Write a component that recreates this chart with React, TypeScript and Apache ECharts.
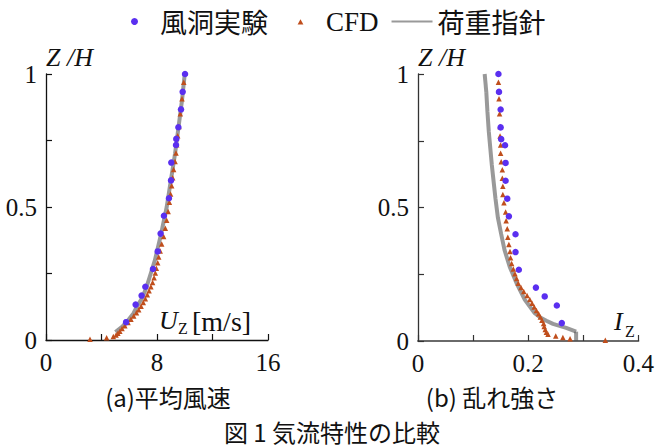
import React, { useEffect, useRef } from 'react';
import * as echarts from 'echarts';

// ---- data ----
const tunnelZ = [1, 0.933, 0.867, 0.8, 0.756, 0.733, 0.667, 0.6, 0.533, 0.467, 0.4, 0.333, 0.267, 0.2, 0.167, 0.133, 0.067];
const tunnelU = [10.02, 9.85, 9.73, 9.54, 9.39, 9.37, 9.03, 9.01, 8.86, 8.5, 8.26, 8.05, 7.71, 7.16, 6.89, 6.46, 5.77];
const tunnelI = [0.146, 0.147, 0.15, 0.15, 0.151, 0.158, 0.159, 0.159, 0.162, 0.165, 0.177, 0.177, 0.183, 0.214, 0.23, 0.252, 0.261];

const cfdZ = [0.969, 0.907, 0.851, 0.803, 0.768, 0.734, 0.703, 0.671, 0.641, 0.61, 0.58, 0.549, 0.518, 0.483, 0.45, 0.42, 0.389, 0.361, 0.335, 0.312, 0.29, 0.27, 0.252, 0.234, 0.216, 0.2, 0.185, 0.17, 0.155, 0.141, 0.127, 0.114, 0.102, 0.09, 0.078, 0.066, 0.054, 0.043, 0.033, 0.025, 0.019, 0.013, 0.008, 0.003];
const cfdU = [9.93, 9.8, 9.68, 9.58, 9.49, 9.42, 9.37, 9.3, 9.2, 9.13, 9.06, 8.98, 8.89, 8.8, 8.7, 8.6, 8.48, 8.34, 8.23, 8.12, 8.05, 7.95, 7.88, 7.79, 7.68, 7.56, 7.43, 7.3, 7.16, 7.01, 6.85, 6.68, 6.52, 6.32, 6.12, 5.91, 5.68, 5.48, 5.32, 5.18, 5.05, 4.85, 4.37, 3.17];
const cfdI = [0.146, 0.147, 0.148, 0.149, 0.149, 0.15, 0.15, 0.151, 0.153, 0.153, 0.154, 0.154, 0.156, 0.159, 0.16, 0.162, 0.163, 0.165, 0.167, 0.168, 0.17, 0.173, 0.176, 0.179, 0.182, 0.187, 0.192, 0.198, 0.203, 0.207, 0.211, 0.215, 0.219, 0.222, 0.225, 0.228, 0.229, 0.231, 0.233, 0.236, 0.25, 0.263, 0.276, 0.34];

const guideUZ = [0.03, 0.04, 0.05, 0.07, 0.1, 0.13, 0.16, 0.2, 0.25, 0.3, 0.4, 0.5, 0.6, 0.7, 0.8, 0.9, 1.0];
const guideU = [5.0, 5.25, 5.5, 5.85, 6.3, 6.6, 6.95, 7.25, 7.55, 7.85, 8.3, 8.7, 9.0, 9.3, 9.55, 9.8, 10.0];

const guideIZ = [1.0, 0.932, 0.86, 0.784, 0.659, 0.534, 0.462, 0.4, 0.341, 0.275, 0.216, 0.154, 0.104, 0.088, 0.076, 0.064, 0.049, 0.035, 0.0];
const guideI = [0.121, 0.124, 0.126, 0.1285, 0.134, 0.1406, 0.145, 0.151, 0.157, 0.167, 0.179, 0.194, 0.212, 0.222, 0.233, 0.245, 0.269, 0.287, 0.287];

const leftXTicks = [0, 8, 16];
const rightXTicks = [0, 0.2, 0.4];
const yTicks = [0, 0.5, 1];

const legendNames = ['風洞実験', 'CFD', '荷重指針'];

const C_TUNNEL = '#5a2ff0';
const C_CFD = '#c04e1c';
const SERIF = '"Liberation Serif", "Times New Roman", serif';
const SANS = '"Noto Sans CJK JP", "Noto Sans", sans-serif';
const INK = '#111';

// legend icon: small triangle inside a 41x7 box (the moveTo corners fix the box)
const TRI_ICON = 'path://M0,0 M41,7 M17.6,6.6 L20.5,1.2 L23.4,6.6 Z';

const pairs = (xs: number[], ys: number[]) => xs.map((x, i) => [x, ys[i]]);

const fmt = (ticks: number[]) => (v: number) => {
  const hit = ticks.find((t) => Math.abs(t - v) < 1e-9);
  return hit === undefined ? '' : String(hit);
};

const txt = (x: number, y: number, text: string, font: string, align = 'left', lineHeight?: number) => ({
  type: 'text',
  x,
  y,
  style: {
    text,
    font,
    fill: INK,
    align,
    verticalAlign: 'middle',
    textAlign: align,
    textVerticalAlign: 'middle',
    ...(lineHeight ? { lineHeight } : {}),
  },
});

export default function App() {
  const ref = useRef<HTMLDivElement>(null);
  useEffect(() => {
    if (!ref.current) return;
    const chart = echarts.init(ref.current, undefined, { renderer: 'svg' });

    const axisLine = (color: string, width: number) => ({ show: true, onZero: false, lineStyle: { color, width } });
    const tick = (color: string) => ({ show: true, inside: true, length: 6, lineStyle: { color, width: 1.2 } });
    const label = (ticks: number[], margin: number) => ({
      formatter: fmt(ticks),
      fontFamily: SERIF,
      fontSize: 25,
      color: INK,
      margin,
      showMinLabel: true,
      showMaxLabel: true,
    });

    const guideLine = { color: '#505050', width: 4, opacity: 0.58 };
    const guideItem = { color: '#999', opacity: 0 };
    const iSegA = guideIZ.slice(0, 2);
    const iSegB = guideIZ.slice(1, guideIZ.length - 1);
    const iSegC = guideIZ.slice(guideIZ.length - 2);
    const xSegA = guideI.slice(0, 2);
    const xSegB = guideI.slice(1, guideI.length - 1);
    const xSegC = guideI.slice(guideI.length - 2);

    const option: any = {
      animation: false,
      legend: {
        data: [
          { name: legendNames[0], icon: 'circle' },
          { name: legendNames[1], icon: TRI_ICON },
          { name: legendNames[2], itemStyle: { opacity: 0 } },
        ],
        left: 126,
        top: 3,
        itemWidth: 41,
        itemHeight: 7,
        itemGap: 12,
        textStyle: {
          fontFamily: SANS,
          fontSize: 27,
          color: INK,
          rich: { s: { fontFamily: SERIF, fontSize: 27, color: INK } },
        },
        formatter: (n: string) => (n === 'CFD' ? '{s|CFD}' : n),
      },
      grid: [
        { left: 46, top: 74, width: 222, height: 266 },
        { left: 418, top: 74, width: 221, height: 267 },
      ],
      xAxis: [
        {
          gridIndex: 0, type: 'value', min: 0, max: 16, interval: 4,
          axisLine: axisLine('#111', 1.3), axisTick: tick('#111'), splitLine: { show: false },
          axisLabel: label(leftXTicks, 10),
        },
        {
          gridIndex: 1, type: 'value', min: 0, max: 0.4, interval: 0.1,
          axisLine: axisLine('#6a6a6a', 2), axisTick: tick('#333'), splitLine: { show: false },
          axisLabel: label(rightXTicks, 10),
        },
      ],
      yAxis: [
        {
          gridIndex: 0, type: 'value', min: 0, max: 1, interval: 0.25,
          axisLine: axisLine('#111', 1.3), axisTick: tick('#111'), splitLine: { show: false },
          axisLabel: label(yTicks, 9),
        },
        {
          gridIndex: 1, type: 'value', min: 0, max: 1, interval: 0.25,
          axisLine: axisLine('#333', 1.3), axisTick: tick('#333'), splitLine: { show: false },
          axisLabel: label(yTicks, 9),
        },
      ],
      series: [
        { name: '荷重指針', type: 'line', xAxisIndex: 0, yAxisIndex: 0, symbol: 'none', lineStyle: guideLine, itemStyle: guideItem, data: pairs(guideU, guideUZ), z: 1 },
        { name: '荷重指針', type: 'line', xAxisIndex: 1, yAxisIndex: 1, symbol: 'none', lineStyle: guideLine, itemStyle: guideItem, data: pairs(xSegA, iSegA), z: 1 },
        { name: '荷重指針', type: 'line', xAxisIndex: 1, yAxisIndex: 1, symbol: 'none', lineStyle: guideLine, itemStyle: guideItem, data: pairs(xSegB, iSegB), z: 1 },
        { name: '荷重指針', type: 'line', xAxisIndex: 1, yAxisIndex: 1, symbol: 'none', lineStyle: guideLine, itemStyle: guideItem, data: pairs(xSegC, iSegC), z: 1 },
        { name: 'CFD', type: 'scatter', xAxisIndex: 0, yAxisIndex: 0, symbol: 'triangle', symbolSize: 5.5, itemStyle: { color: C_CFD, opacity: 1 }, data: pairs(cfdU, cfdZ), z: 2 },
        { name: 'CFD', type: 'scatter', xAxisIndex: 1, yAxisIndex: 1, symbol: 'triangle', symbolSize: 5.5, itemStyle: { color: C_CFD, opacity: 1 }, data: pairs(cfdI, cfdZ), z: 2 },
        { name: '風洞実験', type: 'scatter', xAxisIndex: 0, yAxisIndex: 0, symbol: 'circle', symbolSize: 6.5, itemStyle: { color: C_TUNNEL, opacity: 1 }, data: pairs(tunnelU, tunnelZ), z: 3 },
        { name: '風洞実験', type: 'scatter', xAxisIndex: 1, yAxisIndex: 1, symbol: 'circle', symbolSize: 6.5, itemStyle: { color: C_TUNNEL, opacity: 1 }, data: pairs(tunnelI, tunnelZ), z: 3 },
      ],
      graphic: [
        txt(46, 57, 'Z /H', `italic 26px ${SERIF}`),
        txt(418, 57, 'Z /H', `italic 26px ${SERIF}`),
        txt(159, 320, 'U', `italic 26px ${SERIF}`),
        txt(178, 328, 'Z', `16px ${SERIF}`),
        txt(192, 321, '[m/s]', `28px ${SERIF}`),
        txt(614, 321, 'I', `italic 26px ${SERIF}`),
        txt(625, 331, 'Z', `16px ${SERIF}`),
        txt(168, 396, '(a)平均風速', `24px ${SANS}`, 'center', 26),
        txt(492, 396, '(b) 乱れ強さ', `24px ${SANS}`, 'center', 26),
        txt(332, 431, '図 1 気流特性の比較', `24px ${SANS}`, 'center', 26),
      ],
    };
    chart.setOption(option);
    return () => chart.dispose();
  }, []);
  return <div ref={ref} style={{ position: 'fixed', left: 0, top: 0, width: 657, height: 447, background: '#fff' }} />;
}
